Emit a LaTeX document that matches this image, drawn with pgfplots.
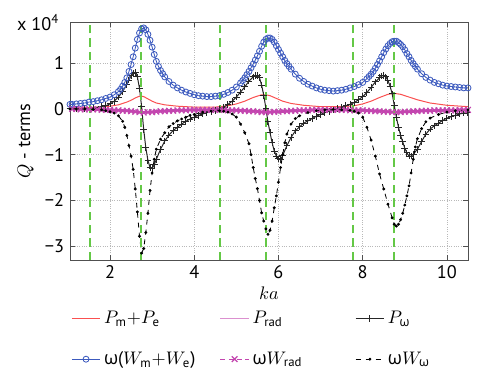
\documentclass[border=0pt]{standalone}
\usepackage{amsmath}
\usepackage{fontspec}
\setmainfont{PT Sans}
\newfontfamily\gk{Open Sans}
\usepackage{pgfplots}
\pgfplotsset{compat=1.18}

\definecolor{qred}{RGB}{250,80,80}
\definecolor{qmag}{RGB}{195,70,175}
\definecolor{qblue}{RGB}{60,90,190}
\definecolor{qgreen}{RGB}{100,200,70}
\definecolor{axgray}{RGB}{80,80,80}

\newcommand{\w}{{\gk ω}}

\begin{document}
\begin{tikzpicture}
\path[use as bounding box] (-1.482,-2.646) rectangle (9.123,5.503);
\begin{axis}[
  name=ax,
  font=\fontsize{11}{13}\selectfont,
  width=8.424cm, height=5.038cm, scale only axis,
  xmin=1.05, xmax=10.5, ymin=-3.3, ymax=1.9,
  xtick={2,4,6,8,10}, xticklabels={2,4,6,8,10},
  ytick={-3,-2,-1,0,1}, yticklabels={−3,−2,−1,0,1},
  tick align=inside, major tick length=3bp,
  grid=major, grid style={densely dotted, gray!55},
  axis line style={axgray}, every tick/.style={axgray},
  xlabel={$ka$}, ylabel={$Q$ - terms},
  xlabel style={yshift=2pt},
  legend columns=3,
  legend cell align=left,
  legend style={draw=none, fill=none, at={(-0.01,-0.185)}, anchor=north west,
    /tikz/column 2/.style={column sep=0.45cm},
    /tikz/column 4/.style={column sep=1.05cm},
    /tikz/row sep=0.4cm},
]
% P_m + P_e
\addplot[qred, line width=0.6pt] coordinates {
 (1.05,0.02) (1.5,0.03) (2.0,0.06) (2.2,0.09) (2.4,0.15) (2.5,0.19) (2.6,0.24)
 (2.7,0.28) (2.75,0.28) (2.8,0.27) (2.9,0.22) (3.0,0.17) (3.1,0.13) (3.3,0.09)
 (3.6,0.06) (4.0,0.04) (4.5,0.04) (4.8,0.07) (5.0,0.11) (5.2,0.17) (5.4,0.25)
 (5.6,0.31) (5.7,0.31) (5.8,0.29) (6.0,0.21) (6.1,0.17) (6.3,0.12) (6.6,0.08)
 (7.0,0.05) (7.5,0.05) (7.8,0.07) (8.0,0.11) (8.2,0.17) (8.4,0.25) (8.6,0.32)
 (8.75,0.34) (8.9,0.32) (9.1,0.26) (9.3,0.20) (9.6,0.13) (10.0,0.08) (10.5,0.05)};
\addlegendentry{$P_{\text{m}}{+}P_{\text{e}}$}
% P_rad
\addplot[qmag, line width=1.6pt, legend image post style={line width=0.6pt, qmag!60}] coordinates {
 (1.05,0.00) (1.5,-0.01) (2.0,-0.02) (2.4,-0.04) (2.6,-0.06) (2.75,-0.08) (2.9,-0.07)
 (3.2,-0.05) (3.6,-0.03) (4.2,-0.02) (4.6,-0.02) (5.0,-0.03) (5.4,-0.05) (5.7,-0.07)
 (6.0,-0.06) (6.4,-0.04) (7.0,-0.02) (7.6,-0.02) (8.0,-0.03) (8.4,-0.05) (8.75,-0.07)
 (9.1,-0.06) (9.5,-0.04) (10.0,-0.03) (10.5,-0.02)};
\addlegendentry{$P_{\text{rad}}$}
% P_omega
\addplot[black!85, line width=0.6pt, mark=+, mark size=2bp] coordinates {
 (1.05,0.00) (1.2,0.00) (1.4,0.01) (1.6,0.02) (1.8,0.05) (1.9,0.07) (2.0,0.11)
 (2.1,0.17) (2.2,0.26) (2.3,0.38) (2.4,0.54) (2.45,0.63) (2.5,0.72) (2.55,0.78)
 (2.6,0.79) (2.65,0.70) (2.7,0.45) (2.75,0.05) (2.8,-0.45) (2.85,-0.85) (2.9,-1.12)
 (2.95,-1.28) (3.0,-1.30) (3.05,-1.22) (3.1,-1.10) (3.2,-0.88) (3.3,-0.70) (3.4,-0.57)
 (3.5,-0.47) (3.6,-0.40) (3.7,-0.33) (3.8,-0.27) (3.9,-0.22) (4.0,-0.18) (4.1,-0.14)
 (4.2,-0.11) (4.3,-0.08) (4.4,-0.05) (4.5,-0.03) (4.6,0.00) (4.7,0.04) (4.8,0.10)
 (4.9,0.17) (5.0,0.26) (5.1,0.37) (5.2,0.48) (5.3,0.61) (5.4,0.70) (5.45,0.73)
 (5.5,0.73) (5.55,0.68) (5.6,0.52) (5.65,0.30) (5.7,0.02) (5.75,-0.28) (5.8,-0.52)
 (5.85,-0.74) (5.9,-0.92) (5.95,-1.03) (6.0,-1.09) (6.05,-1.10) (6.1,-1.02) (6.2,-0.80)
 (6.3,-0.62) (6.4,-0.48) (6.5,-0.39) (6.6,-0.31) (6.7,-0.26) (6.8,-0.21) (6.9,-0.16)
 (7.0,-0.12) (7.1,-0.08) (7.2,-0.05) (7.3,-0.02) (7.4,0.01) (7.5,0.04) (7.6,0.07)
 (7.7,0.10) (7.8,0.14) (7.9,0.20) (8.0,0.27) (8.1,0.36) (8.2,0.47) (8.3,0.59)
 (8.4,0.68) (8.45,0.72) (8.5,0.73) (8.55,0.70) (8.6,0.62) (8.65,0.50) (8.7,0.33)
 (8.75,0.08) (8.8,-0.18) (8.85,-0.40) (8.9,-0.58) (8.95,-0.72) (9.0,-0.86) (9.05,-0.96)
 (9.1,-1.03) (9.15,-1.03) (9.2,-0.99) (9.3,-0.88) (9.4,-0.71) (9.5,-0.55) (9.6,-0.44)
 (9.7,-0.37) (9.8,-0.31) (9.9,-0.25) (10.0,-0.20) (10.1,-0.17) (10.2,-0.14) (10.3,-0.11)
 (10.4,-0.09) (10.5,-0.08)};
\addlegendentry{$P_{\text{\gk ω}}$}
% omega (W_m + W_e)
\addplot[qblue, line width=0.5pt, mark=o, mark size=1.8bp] coordinates {
 (1.05,0.10) (1.1,0.10) (1.2,0.11) (1.3,0.12) (1.4,0.13) (1.5,0.15) (1.6,0.16)
 (1.7,0.18) (1.8,0.20) (1.9,0.23) (2.0,0.26) (2.1,0.31) (2.2,0.38) (2.25,0.43)
 (2.3,0.50) (2.35,0.58) (2.4,0.68) (2.45,0.82) (2.5,0.97) (2.55,1.14) (2.6,1.33)
 (2.65,1.52) (2.7,1.66) (2.75,1.75) (2.8,1.77) (2.85,1.73) (2.9,1.63) (2.95,1.50)
 (3.0,1.35) (3.05,1.19) (3.1,1.04) (3.15,0.93) (3.2,0.84) (3.25,0.77) (3.3,0.70)
 (3.4,0.60) (3.5,0.52) (3.6,0.46) (3.7,0.41) (3.8,0.37) (3.9,0.34) (4.0,0.31)
 (4.1,0.29) (4.2,0.28) (4.3,0.27) (4.4,0.27) (4.5,0.28) (4.6,0.29) (4.7,0.32)
 (4.8,0.36) (4.9,0.41) (5.0,0.48) (5.1,0.57) (5.15,0.62) (5.2,0.68) (5.25,0.75)
 (5.3,0.82) (5.35,0.90) (5.4,0.98) (5.45,1.07) (5.5,1.16) (5.55,1.26) (5.6,1.37)
 (5.65,1.46) (5.7,1.52) (5.75,1.55) (5.8,1.55) (5.85,1.52) (5.9,1.46) (5.95,1.38)
 (6.0,1.30) (6.05,1.22) (6.1,1.14) (6.15,1.06) (6.2,0.99) (6.25,0.93) (6.3,0.87)
 (6.4,0.76) (6.5,0.67) (6.6,0.60) (6.7,0.54) (6.8,0.50) (6.9,0.46) (7.0,0.43)
 (7.1,0.41) (7.2,0.40) (7.3,0.39) (7.4,0.40) (7.5,0.41) (7.6,0.43) (7.7,0.46)
 (7.8,0.49) (7.9,0.53) (8.0,0.58) (8.1,0.66) (8.15,0.71) (8.2,0.76) (8.25,0.82)
 (8.3,0.89) (8.35,0.97) (8.4,1.05) (8.45,1.14) (8.5,1.23) (8.55,1.31) (8.6,1.38)
 (8.65,1.43) (8.7,1.47) (8.75,1.48) (8.8,1.48) (8.85,1.45) (8.9,1.41) (8.95,1.36)
 (9.0,1.29) (9.05,1.21) (9.1,1.14) (9.15,1.06) (9.2,0.99) (9.25,0.93) (9.3,0.87)
 (9.4,0.77) (9.5,0.69) (9.6,0.63) (9.7,0.58) (9.8,0.55) (9.9,0.52) (10.0,0.50)
 (10.1,0.49) (10.2,0.48) (10.3,0.47) (10.4,0.46) (10.5,0.46)};
\addlegendentry{\w($W_{\text{m}}{+}W_{\text{e}}$)}
% omega W_rad
\addplot[qmag, densely dashed, line width=0.5pt, mark=x, mark size=2.4bp, mark options={solid, line width=0.7pt}] coordinates {
 (1.1,0.00) (1.2,0.00) (1.3,-0.01) (1.4,-0.01) (1.5,-0.01) (1.6,-0.01) (1.7,-0.01)
 (1.8,-0.02) (1.9,-0.02) (2.0,-0.02) (2.1,-0.03) (2.2,-0.03) (2.3,-0.04) (2.4,-0.04)
 (2.5,-0.05) (2.6,-0.06) (2.7,-0.07) (2.8,-0.08) (2.9,-0.07) (3.0,-0.07) (3.1,-0.06)
 (3.2,-0.05) (3.3,-0.05) (3.4,-0.04) (3.5,-0.04) (3.6,-0.03) (3.7,-0.03) (3.8,-0.03)
 (3.9,-0.02) (4.0,-0.02) (4.1,-0.02) (4.2,-0.02) (4.3,-0.02) (4.4,-0.02) (4.5,-0.02)
 (4.6,-0.02) (4.7,-0.02) (4.8,-0.03) (4.9,-0.03) (5.0,-0.03) (5.1,-0.04) (5.2,-0.04)
 (5.3,-0.05) (5.4,-0.05) (5.5,-0.06) (5.6,-0.07) (5.7,-0.07) (5.8,-0.07) (5.9,-0.06)
 (6.0,-0.06) (6.1,-0.05) (6.2,-0.05) (6.3,-0.04) (6.4,-0.04) (6.5,-0.03) (6.6,-0.03)
 (6.7,-0.03) (6.8,-0.02) (6.9,-0.02) (7.0,-0.02) (7.1,-0.02) (7.2,-0.02) (7.3,-0.02)
 (7.4,-0.02) (7.5,-0.02) (7.6,-0.02) (7.7,-0.03) (7.8,-0.03) (7.9,-0.03) (8.0,-0.03)
 (8.1,-0.04) (8.2,-0.04) (8.3,-0.05) (8.4,-0.05) (8.5,-0.06) (8.6,-0.06) (8.7,-0.07)
 (8.8,-0.07) (8.9,-0.07) (9.0,-0.06) (9.1,-0.06) (9.2,-0.05) (9.3,-0.05) (9.4,-0.04)
 (9.5,-0.04) (9.6,-0.04) (9.7,-0.03) (9.8,-0.03) (9.9,-0.03) (10.0,-0.03) (10.1,-0.03)
 (10.2,-0.03) (10.3,-0.02) (10.4,-0.02) (10.5,-0.02)};
\addlegendentry{\w$W_{\text{rad}}$}
% omega W_omega
\addplot[black, dashed, line width=0.5pt, mark=*, mark size=0.6bp, mark options={solid}] coordinates {
 (1.05,0.00) (1.2,0.00) (1.4,0.00) (1.6,-0.01) (1.8,-0.02) (1.9,-0.04) (2.0,-0.06)
 (2.1,-0.09) (2.2,-0.15) (2.3,-0.27) (2.35,-0.40) (2.4,-0.58) (2.45,-0.80) (2.5,-1.03)
 (2.55,-1.32) (2.6,-1.75) (2.65,-2.25) (2.7,-2.78) (2.75,-3.15) (2.8,-3.05) (2.85,-2.70)
 (2.9,-2.28) (2.95,-1.78) (3.0,-1.40) (3.05,-1.10) (3.1,-0.88) (3.2,-0.66) (3.3,-0.52)
 (3.4,-0.39) (3.5,-0.32) (3.6,-0.26) (3.7,-0.22) (3.8,-0.18) (3.9,-0.14) (4.0,-0.12)
 (4.2,-0.07) (4.4,-0.05) (4.6,-0.04) (4.7,-0.05) (4.8,-0.07) (4.9,-0.11) (5.0,-0.18)
 (5.1,-0.33) (5.2,-0.52) (5.3,-0.76) (5.35,-1.00) (5.4,-1.28) (5.45,-1.52) (5.5,-1.74)
 (5.55,-2.00) (5.6,-2.27) (5.65,-2.45) (5.7,-2.62) (5.75,-2.74) (5.8,-2.65) (5.85,-2.45)
 (5.9,-2.16) (5.95,-1.90) (6.0,-1.60) (6.05,-1.28) (6.1,-1.00) (6.15,-0.74) (6.2,-0.55)
 (6.3,-0.33) (6.4,-0.21) (6.5,-0.15) (6.7,-0.08) (6.9,-0.04) (7.1,-0.02) (7.3,-0.01)
 (7.5,-0.02) (7.7,-0.03) (7.8,-0.05) (7.9,-0.09) (8.0,-0.18) (8.1,-0.40) (8.2,-0.68)
 (8.3,-1.03) (8.4,-1.42) (8.5,-1.75) (8.6,-2.08) (8.7,-2.38) (8.75,-2.52) (8.8,-2.56)
 (8.85,-2.52) (8.9,-2.42) (8.95,-2.28) (9.0,-2.10) (9.05,-1.90) (9.1,-1.68) (9.15,-1.40)
 (9.2,-1.10) (9.25,-0.83) (9.3,-0.65) (9.4,-0.43) (9.5,-0.28) (9.6,-0.20) (9.8,-0.12)
 (10.0,-0.07) (10.2,-0.04) (10.5,-0.02)};
\addlegendentry{\w$W_{\text{\gk ω}}$}
% resonance markers
\addplot[qgreen, line width=0.9pt, dash pattern=on 5bp off 3bp, forget plot] coordinates {(1.53,-3.3) (1.53,1.9)};
\addplot[qgreen, line width=0.9pt, dash pattern=on 5bp off 3bp, forget plot] coordinates {(2.735,-3.3) (2.735,1.9)};
\addplot[qgreen, line width=0.9pt, dash pattern=on 5bp off 3bp, forget plot] coordinates {(4.61,-3.3) (4.61,1.9)};
\addplot[qgreen, line width=0.9pt, dash pattern=on 5bp off 3bp, forget plot] coordinates {(5.70,-3.3) (5.70,1.9)};
\addplot[qgreen, line width=0.9pt, dash pattern=on 5bp off 3bp, forget plot] coordinates {(7.775,-3.3) (7.775,1.9)};
\addplot[qgreen, line width=0.9pt, dash pattern=on 5bp off 3bp, forget plot] coordinates {(8.74,-3.3) (8.74,1.9)};
\end{axis}
\node[font=\fontsize{11}{13}\selectfont, anchor=base east, xshift=-3bp, yshift=-5bp] at (ax.north west) {x 10\textsuperscript{4}};
\end{tikzpicture}
\end{document}
